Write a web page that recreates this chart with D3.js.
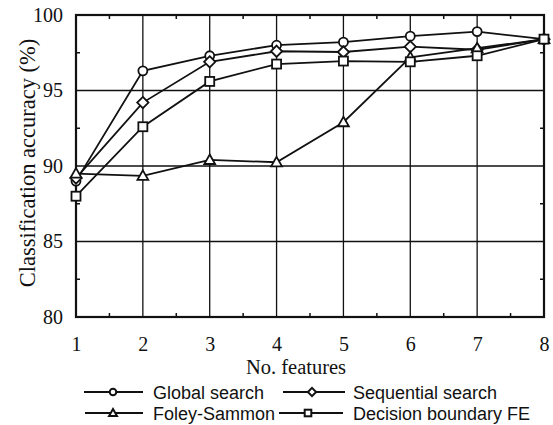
<!DOCTYPE html>
<html>
<head>
<meta charset="utf-8">
<script src="https://cdn.jsdelivr.net/npm/d3@7"></script>
<style>
body{margin:0;background:#fff;}
</style>
</head>
<body>
<script>
var features=[1,2,3,4,5,6,7,8]
var globalSearch=[89.0,96.3,97.3,98.0,98.2,98.6,98.9,98.4]
var sequentialSearch=[89.2,94.2,96.9,97.6,97.55,97.9,97.7,98.4]
var foleySammon=[89.5,89.35,90.4,90.25,92.9,97.2,97.8,98.4]
var decisionBoundary=[88.0,92.6,95.6,96.75,96.95,96.9,97.3,98.4]
var yTicks=[80,85,90,95,100]
var seriesNames=["Global search","Sequential search","Foley-Sammon","Decision boundary FE"]
var markers=["circle","diamond","triangle","square"]

var svg=d3.select("body").append("svg").attr("width",553).attr("height",425)
var margin={left:76,top:15,right:544,bottom:317}
var x=d3.scaleLinear().domain([1,8]).range([margin.left,margin.right])
var y=d3.scaleLinear().domain([80,100]).range([margin.bottom,margin.top])

// grid
svg.append("g").selectAll("line").data(features.slice(1,7)).enter().append("line")
  .attr("x1",function(d){return x(d)}).attr("x2",function(d){return x(d)})
  .attr("y1",y(80)).attr("y2",y(100)).attr("stroke","#111").attr("stroke-width",1.3)
svg.append("g").selectAll("line").data(yTicks.slice(1,4)).enter().append("line")
  .attr("y1",function(d){return y(d)}).attr("y2",function(d){return y(d)})
  .attr("x1",x(1)).attr("x2",x(8)).attr("stroke","#111").attr("stroke-width",1.3)

// minor ticks inside
var minorX=d3.range(1.5,8,1)
var minorY=d3.range(82.5,100,5)
minorX.forEach(function(d){
  svg.append("line").attr("x1",x(d)).attr("x2",x(d)).attr("y1",y(80)).attr("y2",y(80)-4).attr("stroke","#111").attr("stroke-width",1.5)
  svg.append("line").attr("x1",x(d)).attr("x2",x(d)).attr("y1",y(100)).attr("y2",y(100)+4).attr("stroke","#111").attr("stroke-width",1.5)
})
minorY.forEach(function(d){
  svg.append("line").attr("y1",y(d)).attr("y2",y(d)).attr("x1",x(1)).attr("x2",x(1)+4).attr("stroke","#111").attr("stroke-width",1.5)
  svg.append("line").attr("y1",y(d)).attr("y2",y(d)).attr("x1",x(8)).attr("x2",x(8)-4).attr("stroke","#111").attr("stroke-width",1.5)
})

// frame
svg.append("rect").attr("x",x(1)).attr("y",y(100)).attr("width",x(8)-x(1)).attr("height",y(80)-y(100))
  .attr("fill","none").attr("stroke","#111").attr("stroke-width",2.2)

// axes labels
var xAxis=d3.axisBottom(x).tickValues(features).tickFormat(d3.format("d")).tickSize(0).tickPadding(20)
var gx=svg.append("g").attr("transform","translate(0,"+y(80)+")").call(xAxis)
gx.select(".domain").remove()
gx.selectAll("text").attr("font-family","Liberation Serif").attr("font-size",20).attr("fill","#111")
var yAxis=d3.axisLeft(y).tickValues(yTicks).tickSize(0).tickPadding(13)
var gy=svg.append("g").attr("transform","translate("+x(1)+",0)").call(yAxis)
gy.select(".domain").remove()
gy.selectAll("text").attr("font-family","Liberation Serif").attr("font-size",20).attr("fill","#111")

svg.append("text").attr("x",296).attr("y",374).attr("text-anchor","middle")
  .attr("font-family","Liberation Serif").attr("font-size",20.5).attr("fill","#111").text("No. features")
svg.append("text").attr("transform","translate(35,163) rotate(-90)").attr("text-anchor","middle")
  .attr("font-family","Liberation Serif").attr("font-size",22.5).attr("fill","#111").text("Classification accuracy (%)")

// markers
var drawMarker=function(g,type,cx,cy,s,w){
  if(type=="circle"){
    g.append("circle").attr("cx",cx).attr("cy",cy).attr("r",s).attr("fill","#fff").attr("stroke","#111").attr("stroke-width",w)
  }
  if(type=="diamond"){
    var r=s*1.25
    g.append("path").attr("d","M"+cx+","+(cy-r)+"L"+(cx+r)+","+cy+"L"+cx+","+(cy+r)+"L"+(cx-r)+","+cy+"Z")
      .attr("fill","#fff").attr("stroke","#111").attr("stroke-width",w)
  }
  if(type=="triangle"){
    var r=s*1.2
    g.append("path").attr("d","M"+cx+","+(cy-r)+"L"+(cx+r)+","+(cy+r*0.75)+"L"+(cx-r)+","+(cy+r*0.75)+"Z")
      .attr("fill","#fff").attr("stroke","#111").attr("stroke-width",w)
  }
  if(type=="square"){
    g.append("rect").attr("x",cx-s).attr("y",cy-s).attr("width",2*s).attr("height",2*s)
      .attr("fill","#fff").attr("stroke","#111").attr("stroke-width",w)
  }
}

var allSeries=[globalSearch,sequentialSearch,foleySammon,decisionBoundary]
var line=d3.line().x(function(d,i){return x(features[i])}).y(function(d){return y(d)})
allSeries.forEach(function(s){
  svg.append("path").attr("d",line(s)).attr("fill","none").attr("stroke","#111").attr("stroke-width",1.8)
})
allSeries.forEach(function(s,k){
  var g=svg.append("g")
  s.forEach(function(v,i){drawMarker(g,markers[k],x(features[i]),y(v),4.5,1.8)})
})

// legend
var legendLines=[[84,143,113],[283,345,312],[85,143,113],[279,343,308]]
var legendRows=[392,392,413,413]
var legendText=[153,353,153,353]
seriesNames.forEach(function(n,k){
  var ly=legendRows[k]
  var g=svg.append("g")
  g.append("line").attr("x1",legendLines[k][0]).attr("x2",legendLines[k][1]).attr("y1",ly).attr("y2",ly).attr("stroke","#111").attr("stroke-width",2.2)
  drawMarker(g,markers[k],legendLines[k][2],ly,3.3,2)
  g.append("text").attr("x",legendText[k]).attr("y",ly+6.5).attr("font-family","Liberation Sans").attr("font-size",18)
    .attr("fill","#111").text(n)
})
</script>
</body>
</html>
